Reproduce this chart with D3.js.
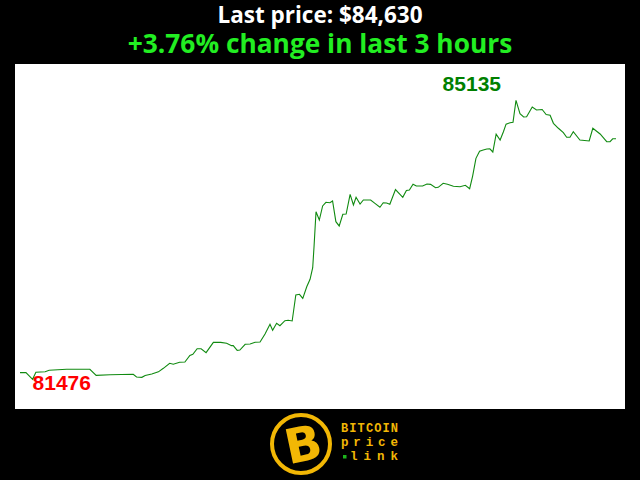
<!DOCTYPE html>
<html><head><meta charset="utf-8">
<script src="https://cdn.jsdelivr.net/npm/d3@7"></script>
<style>html,body{margin:0;padding:0;background:#000;}svg{display:block;}</style>
</head><body>
<svg id="chart" width="640" height="480"></svg>
<script>
const titleLine1 = "Last price: $84,630";
const titleLine2 = "+3.76% change in last 3 hours";
const minutes = [0,1.8,3.8,4.8,7.6,8.8,14.1,21.1,23.0,27.2,34.2,35.2,36.8,37.8,39.8,41.8,43.3,45.2,46.3,48.2,49.8,51.3,52.2,53.5,54.7,56.2,58.4,60.6,62.4,63.9,64.4,65.6,66.4,68.0,69.5,71.0,72.5,74.0,75.5,76.3,77.5,78.5,80.0,81.0,82.2,83.3,84.4,85.4,86.6,87.6,88.4,88.8,89.4,90.4,91.4,92.4,93.6,94.4,95.4,96.4,97.5,98.5,99.7,100.7,101.5,102.7,103.7,105.9,107.2,108.7,109.7,110.7,111.7,113.4,115.6,116.7,117.6,118.7,119.7,121.6,122.9,124.0,125.5,126.3,127.8,129.1,130.9,132.9,134.5,135.8,136.7,137.7,138.8,139.9,141.0,141.9,142.8,143.8,145.0,146.0,146.8,148.0,148.9,149.8,151.0,152.1,153.0,154.7,156.0,157.7,158.9,160.1,161.1,162.6,164.1,165.1,166.1,167.1,169.1,171.9,173.0,175.2,177.2,178.2,179.0,180.0];
const prices = [81563,81563,81476,81568,81576,81594,81607,81607,81528,81536,81542,81506,81502,81526,81545,81574,81620,81686,81674,81700,81703,81788,81804,81877,81877,81825,81960,81960,81948,81917,81917,81856,81860,81935,81939,81961,81965,82070,82197,82119,82210,82179,82245,82250,82241,82582,82591,82538,82690,82788,82940,83215,83674,83565,83749,83797,83792,83814,83543,83487,83640,83644,83902,83762,83863,83775,83828,83828,83784,83733,83792,83788,83772,83964,83863,83953,83959,84035,84011,84011,84037,84032,83988,83994,84047,84033,84007,84002,84020,83976,84142,84374,84466,84483,84496,84499,84457,84691,84614,84723,84822,84841,84848,85135,84959,84916,84920,85047,85008,85014,84948,84940,84833,84768,84710,84650,84650,84723,84614,84601,84768,84693,84592,84592,84630,84630];
const logoLines = ["BITCOIN","price","link"];

const data = minutes.map((m,i)=>({m, p: prices[i]}));
const svg = d3.select("#chart");
const W = 640, H = 480;
svg.append("rect").attr("width",W).attr("height",H).attr("fill","#000");

const plot = {left:15, top:64, right:625, bottom:409};
svg.append("rect").attr("x",plot.left).attr("y",plot.top)
  .attr("width",plot.right-plot.left).attr("height",plot.bottom-plot.top).attr("fill","#fff");

const minP = d3.min(prices), maxP = d3.max(prices);
const x = d3.scaleLinear().domain(d3.extent(minutes)).range([20,616]);
const y = d3.scaleLinear().domain([minP,maxP]).range([379.3,100.3]);

const line = d3.line().x(d=>x(d.m)).y(d=>y(d.p));
svg.append("path").datum(data).attr("d",line).attr("fill","none")
  .attr("stroke","#108a10").attr("stroke-width",1.1);

const iMin = prices.indexOf(minP), iMax = prices.indexOf(maxP);
svg.append("text").attr("x",x(minutes[iMin])).attr("y",y(minP)+11)
  .attr("font-family","Liberation Sans, Arial, sans-serif").attr("font-weight","bold")
  .attr("font-size",21).attr("fill","#ff0000").text(minP);
svg.append("text").attr("x",x(minutes[iMax])-15).attr("y",y(maxP)-9)
  .attr("text-anchor","end")
  .attr("font-family","Liberation Sans, Arial, sans-serif").attr("font-weight","bold")
  .attr("font-size",21).attr("fill","#008000").text(maxP);

svg.append("text").attr("x",320).attr("y",22.5).attr("text-anchor","middle")
  .attr("font-family","Open Sans, sans-serif").attr("font-weight","bold")
  .attr("font-size",22.5).attr("fill","#fff").text(titleLine1);
svg.append("text").attr("x",320).attr("y",53).attr("text-anchor","middle")
  .attr("font-family","Open Sans, sans-serif").attr("font-weight","bold")
  .attr("font-size",26.3).attr("fill","#22ee22").text(titleLine2);

// logo
const gold = "#f2b705";
const g = svg.append("g");
g.append("circle").attr("cx",301).attr("cy",444).attr("r",29)
  .attr("fill","none").attr("stroke",gold).attr("stroke-width",4);
g.append("text").attr("x",303).attr("y",461).attr("text-anchor","middle")
  .attr("transform","rotate(-12,303,444)")
  .attr("font-family","DejaVu Sans, sans-serif").attr("font-weight","bold")
  .attr("font-size",48).attr("fill",gold).text("B");
const logoSize = [12, 12.5, 12.5];
g.selectAll("text.logo").data(logoLines).enter().append("text").attr("class","logo")
  .attr("x",(d,i)=> i===2 ? 350 : 341).attr("y",(d,i)=>432+i*14)
  .attr("textLength",(d,i)=> i===2 ? 48 : 57).attr("lengthAdjust","spacing")
  .attr("font-family","Liberation Mono, Courier New, monospace").attr("font-weight","bold")
  .attr("font-size",(d,i)=>logoSize[i]).attr("fill",gold).text(d=>d);
g.append("rect").attr("x",343).attr("y",455).attr("width",3.5).attr("height",3.5).attr("fill","#1db31d");
</script>
</body></html>
